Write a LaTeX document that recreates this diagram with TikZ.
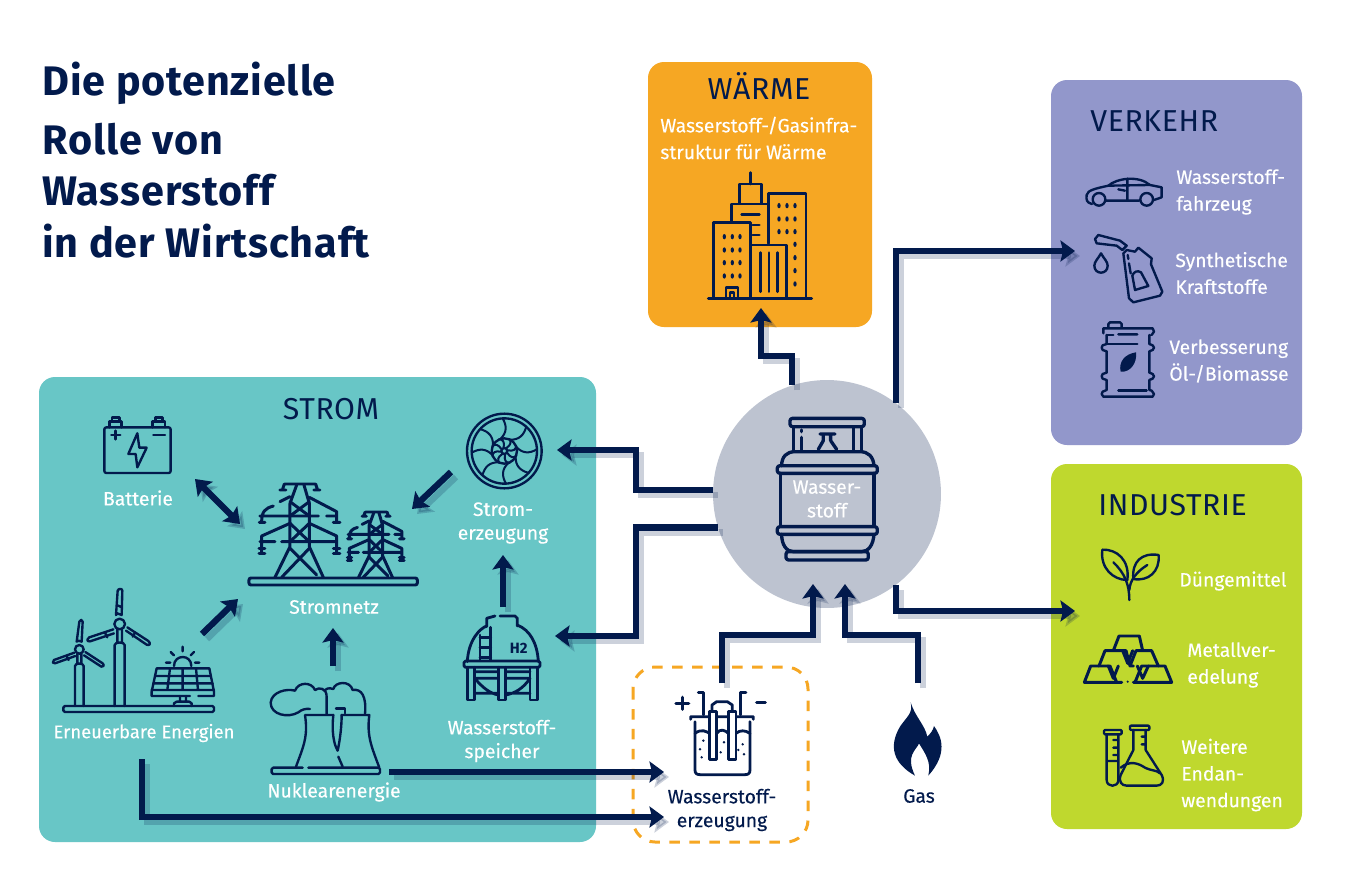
\documentclass[tikz,border=0pt]{standalone}
\usepackage{fontspec}
\setmainfont{Fira Sans}
\newfontfamily\titlefont[LetterSpace=2.1]{Fira Sans}
\newfontfamily\headfont[LetterSpace=2]{Fira Sans}
\newfontfamily\labelfont[FakeBold=0.25]{Fira Sans}
\usetikzlibrary{arrows.meta,positioning}
\definecolor{H2Navy}{HTML}{021A4C}
\definecolor{H2Teal}{HTML}{68C6C6}
\definecolor{H2Orange}{HTML}{F6A723}
\definecolor{H2Violet}{HTML}{9297CB}
\definecolor{H2Lime}{HTML}{BFD82E}
\definecolor{H2Hub}{HTML}{BDC3D0}
\tikzset{
  h2tip/.tip={Stealth[length=.29cm,width=.42cm,inset=.05cm]},
  figlabel/.style={font=\labelfont\fontsize{11}{13.5}\selectfont, text=white, align=center, inner sep=0pt},
  figleft/.style={figlabel, font=\labelfont\fontsize{11}{15.2}\selectfont, align=left, anchor=west},
  figdark/.style={figlabel, text=H2Navy},
  fighead/.style={font=\headfont\fontsize{17.2}{18}\selectfont, text=H2Navy, inner sep=0pt},
  figtitle/.style={font=\titlefont\fontsize{23.5}{26}\selectfont\bfseries, text=H2Navy, anchor=base west, inner sep=0pt},
  figpanel/.style={rounded corners=.32cm},
  figflow/.style={line width=3.6pt, draw=H2Navy, -h2tip,
    preaction={draw=H2Navy, line width=3.6pt, opacity=.2, transform canvas={shift={(.1cm,-.1cm)}}}},
  figboth/.style={figflow, h2tip-h2tip},
  icon/.style={draw=H2Navy, line width=1.35pt, line cap=round, line join=round},
  iconthick/.style={icon, line width=1.9pt},
  zoomed/.style={shift={(#1)}, x=.006667cm, y=-.006667cm}
}
\begin{document}
\begin{tikzpicture}[x=.02cm, y=-.02cm]
\path[fill=white] (0,0) rectangle (1345,879);
\useasboundingbox (0,0) rectangle (1345,879);
% panels
\path[figpanel, fill=H2Teal] (39,377) rectangle (596,842);
\path[figpanel, fill=H2Orange] (648,62) rectangle (872,327);
\path[figpanel, fill=H2Violet] (1051,80) rectangle (1302,445);
\path[figpanel, fill=H2Lime] (1051,464) rectangle (1302,829);
\draw[H2Orange, line width=1.7pt, rounded corners=.44cm, dash pattern=on .21cm off .19cm] (633,667) rectangle (808,842);
\node[circle, fill=H2Hub, minimum size=4.56cm, inner sep=0pt] (hub) at (827,494) {};
% title
\node[figtitle] (title1) at (42,95) {Die potenzielle};
\node[figtitle] (title2) at (42,154) {Rolle von};
\node[figtitle] (title3) at (42,205) {Wasserstoff};
\node[figtitle] (title4) at (42,257) {in der Wirtschaft};
% connector ends
\coordinate (waermeIn) at (761,308);
\coordinate (verkehrIn) at (1075,251);
\coordinate (industrieIn) at (1075,611);
\coordinate (stromerzIn) at (557,450);
\coordinate (speicherIn) at (555,636);
\coordinate (hubInA) at (813,584);
\coordinate (hubInB) at (845,584);
\coordinate (elektroOut) at (722,683);
\coordinate (gasOut) at (918,683);
\coordinate (nuklearOut) at (389,772);
\coordinate (erneuerbarOut) at (142,759);
\coordinate (elektroInA) at (664,772);
\coordinate (elektroInB) at (664,817);
\coordinate (batterieEnd) at (195,479);
\coordinate (netzEndA) at (240,524);
\coordinate (netzEndB) at (412,509);
\coordinate (stromerzOut) at (451,472);
\coordinate (netzEndC) at (238,599);
\coordinate (erneuerbarNetz) at (202,634);
\coordinate (netzEndD) at (333,628);
\coordinate (nuklearNetz) at (333,666);
\coordinate (speicherOut) at (503,607);
\coordinate (stromerzEnd) at (503,555);
% connectors
\draw[figflow] (hub.108) -- ++(0,-29) -| (waermeIn);
\draw[figflow] (hub.53.4) |- (verkehrIn);
\draw[figflow] (hub.-53.4) |- (industrieIn);
\draw[figflow] (hub.178.8) -- ++(-77,0) |- (stromerzIn);
\draw[figflow] (hub.197.4) -- ++(-82,0) |- (speicherIn);
\draw[figflow] (elektroOut) -- ++(0,-48) -| (hubInA);
\draw[figflow] (gasOut) -- ++(0,-48) -| (hubInB);
\draw[figflow] (nuklearOut) -- (elektroInA);
\draw[figflow] (erneuerbarOut) |- (elektroInB);
\draw[figboth] (batterieEnd) -- (netzEndA);
\draw[figflow] (stromerzOut) -- (netzEndB);
\draw[figflow] (erneuerbarNetz) -- (netzEndC);
\draw[figflow] (nuklearNetz) -- (netzEndD);
\draw[figflow] (speicherOut) -- (stromerzEnd);
% strom icons, upper part
\begin{scope}[zoomed={40,380}]
\draw[icon, rounded corners=.04cm] (193,142) rectangle (392,279);
\draw[icon] (208,142) -- (208,125) -- (245,125) -- (245,142) (216,125) -- (216,113) -- (238,113) -- (238,125);
\draw[icon] (338,142) -- (338,125) -- (375,125) -- (375,142) (346,125) -- (346,113) -- (368,113) -- (368,125);
\draw[icon] (214,165) -- (241,165) (227,152) -- (227,178) (340,165) -- (375,165);
\draw[icon] (292,160) -- (265,222) -- (287,222) -- (292,262) -- (320,203) -- (298,203) -- cycle;
\foreach \px/\ps in {778/1,1007/.7}{
\begin{scope}[shift={(\px,592)}, scale=\ps]
\begin{scope}[shift={(-778,-592)}]
\draw[icon, line width=1.7pt] (735,312) -- (825,312) (720,330) -- (738,330) (822,330) -- (840,330) (733,312) -- (727,330) (827,312) -- (833,330);
\draw[icon, line width=1.7pt] (770,315) -- (750,370) -- (750,500) -- (705,592) (792,315) -- (808,370) -- (808,500) -- (850,592);
\draw[icon, line width=1.7pt] (750,365) -- (808,408) (808,365) -- (750,408) (750,430) -- (808,485) (808,430) -- (750,485);
\draw[icon, line width=1.7pt] (750,505) -- (830,585) (808,505) -- (725,592) (720,365) -- (750,350) (808,352) -- (890,395) -- (890,425);
\draw[icon, line width=1.7pt] (700,378) .. controls (675,385) and (665,395) .. (665,425) (660,408) -- (835,408) (860,408) -- (885,408) (658,427) -- (675,427) (880,427) -- (900,427);
\draw[icon, line width=1.7pt] (750,430) -- (665,468) -- (665,520) (808,430) -- (890,468) -- (890,520) (660,485) -- (705,485) (725,485) -- (885,485);
\draw[icon, line width=1.7pt] (657,505) -- (675,505) (657,521) -- (675,521) (880,505) -- (900,505) (880,521) -- (900,521);
\end{scope}
\end{scope}
}
\draw[icon, line width=1.7pt, rounded corners=.04cm] (627,594) rectangle (1132,615);
\end{scope}
% strom icons, lower part
\begin{scope}[zoomed={40,580}]
\draw[icon] (224,378) -- (224,195) .. controls (224,185) and (254,185) .. (254,195) -- (254,378) (232,148) -- (232,186) (246,148) -- (246,186);
\draw[icon] (239,132) circle [radius=16];
\draw[icon] (228,105) -- (233,32) .. controls (235,25) and (247,25) .. (247,32) -- (245,105) -- (232,100) -- cycle (230,75) -- (246,82);
\draw[icon] (220,148) -- (148,172) .. controls (140,178) and (140,185) .. (150,184) -- (222,160) (195,158) -- (202,172);
\draw[icon] (262,142) -- (325,183) .. controls (333,190) and (330,198) .. (320,194) -- (258,152) (285,158) -- (278,170);
\draw[icon] (105,378) -- (105,258) .. controls (105,248) and (131,248) .. (131,258) -- (131,378) (112,222) -- (112,250) (124,222) -- (124,250);
\draw[icon] (118,208) circle [radius=13];
\draw[icon] (110,185) -- (118,125) .. controls (120,118) and (128,118) .. (128,125) -- (125,185) -- (116,182) -- cycle;
\draw[icon] (103,218) -- (42,240) .. controls (36,245) and (38,252) .. (45,250) -- (106,228) (80,228) -- (86,240);
\draw[icon] (136,216) -- (188,250) .. controls (194,256) and (190,262) .. (184,260) -- (132,226);
\draw[icon, rounded corners=.03cm] (70,378) rectangle (522,396);
% solar panel
\draw[icon] (402,258) .. controls (402,222) and (454,222) .. (454,258) (378,248) -- (391,248) (465,248) -- (478,248) (392,216) -- (402,226) (462,216) -- (452,226) (428,200) -- (428,214);
\draw[icon] (375,265) -- (508,265) -- (522,335) -- (522,348) -- (475,348) (450,348) -- (335,348) -- (335,335) -- (350,265) -- (375,265);
\draw[icon] (335,330) -- (522,330) (345,288) -- (512,288) (340,310) -- (518,310) (390,265) -- (382,330) (428,265) -- (428,330) (468,265) -- (474,330);
\draw[icon] (420,348) -- (420,365) (438,348) -- (438,365) (402,378) -- (402,370) -- (410,365) -- (448,365) -- (455,370) -- (455,378);
% cooling towers
\draw[icon, rounded corners=.03cm] (788,563) -- (695,563) -- (695,582) -- (1020,582) -- (1020,563) -- (805,563);
\draw[icon] (795,405) -- (880,405) (795,405) .. controls (805,470) and (790,500) .. (768,560) (905,405) -- (988,405) .. controls (980,470) and (995,500) .. (1018,563);
\draw[icon] (880,405) .. controls (875,450) and (880,490) .. (893,512) .. controls (900,480) and (905,440) .. (905,405) (895,530) -- (908,560);
\draw[icon] (860,402) -- (860,350) .. controls (860,325) and (838,320) .. (825,330) .. controls (815,305) and (775,305) .. (765,332) .. controls (740,325) and (695,335) .. (692,368) .. controls (692,405) and (745,415) .. (775,397) .. controls (785,388) and (800,385) .. (810,387);
\draw[icon] (855,330) .. controls (865,322) and (875,325) .. (880,327) .. controls (885,305) and (930,300) .. (938,330) .. controls (965,325) and (980,350) .. (975,402);
\draw[icon] (888,385) -- (915,385) -- (915,400);
\end{scope}
% stromerzeugung, speicher, hub and electrolyser icons
\begin{scope}[zoomed={440,400}]
\begin{scope}[shift={(193,153)}]
\draw[icon] (0,0) circle [radius=112] (0,0) circle [radius=98] (0,0) circle [radius=38] (0,0) circle [radius=9];
\foreach \a in {0,45,...,315}{
\draw[icon, line width=1.15pt, rotate=\a] (-12,-36) .. controls (8,-55) and (8,-75) .. (-5,-98) (6,-9) .. controls (20,-18) and (22,-28) .. (14,-36);
}
\end{scope}
% tank
\draw[icon, line width=1.6pt] (82,785) .. controls (85,720) and (120,685) .. (140,678) (232,675) .. controls (270,690) and (292,730) .. (295,785);
\draw[icon, line width=1.6pt] (140,680) -- (140,655) -- (165,648) (180,648) -- (225,648) -- (232,655) -- (232,678);
\draw[icon, line width=1.6pt] (120,705) -- (120,780) (152,682) -- (152,780) (120,712) -- (152,712) (120,742) -- (152,742) (120,772) -- (152,772);
\draw[icon, line width=1.6pt, rounded corners=.03cm] (72,783) rectangle (300,802);
\node[font=\fontsize{8.5}{9}\selectfont\bfseries, text=H2Navy, inner sep=0pt] (htwo) at (236,746) {H2};
\foreach \px in {82,175,270}{
\draw[icon, line width=1.6pt] (\px,802) -- (\px,900) -- ({\px+22},900) -- ({\px+22},802);
}
\draw[icon, line width=1.6pt] (104,835) .. controls (130,865) and (150,880) .. (175,885) (197,885) .. controls (225,880) and (250,865) .. (270,835) (104,815) -- (175,815) (197,815) -- (270,815) (104,835) -- (175,835) (197,835) -- (270,835) (104,880) -- (175,880) (197,880) -- (270,880);
% cylinder
\draw[iconthick, rounded corners=.05cm] (1050,55) rectangle (1273,80);
\draw[iconthick] (1060,80) -- (1060,150) (1085,112) -- (1085,150) (1085,90) -- (1085,95) (1240,80) -- (1240,150) (1265,80) -- (1265,150);
\draw[iconthick] (1140,102) -- (1185,102) (1150,104) -- (1150,122) (1172,104) -- (1172,122) (1150,122) -- (1135,148) (1172,122) -- (1190,148);
\draw[iconthick] (1025,197) .. controls (1025,170) and (1040,155) .. (1065,155) -- (1260,155) .. controls (1285,155) and (1300,170) .. (1302,197);
\draw[iconthick, rounded corners=.05cm] (1012,197) rectangle (1312,220);
\draw[icon] (1030,197) -- (1262,197);
\draw[iconthick] (1022,220) -- (1022,378) (1302,220) -- (1302,378);
\draw[iconthick, rounded corners=.05cm] (1012,380) rectangle (1312,403);
\draw[iconthick] (1025,403) .. controls (1025,435) and (1040,455) .. (1060,455) -- (1265,455) .. controls (1285,455) and (1300,435) .. (1302,403);
\draw[iconthick, rounded corners=.05cm] (1038,455) rectangle (1285,480);
% electrolyser
\draw[iconthick] (708,910) -- (746,910) (727,892) -- (727,928) (950,908) -- (976,908);
\draw[icon, line width=1.6pt] (775,878) -- (790,878) -- (790,945) (918,878) -- (902,878) -- (902,945);
\draw[icon, line width=1.6pt] (752,958) -- (752,950) -- (940,950) -- (940,958) (765,965) -- (765,1110) .. controls (765,1120) and (770,1124) .. (780,1124) -- (915,1124) .. controls (925,1124) and (930,1120) .. (930,1110) -- (930,965);
\draw[icon, line width=1.6pt] (765,1000) .. controls (785,985) and (800,995) .. (808,1000) (830,1000) .. controls (840,985) and (855,990) .. (865,1000) (888,1000) .. controls (900,990) and (915,990) .. (930,1000);
\draw[icon, line width=1.6pt, fill=white] (808,935) rectangle (830,1078) (865,935) rectangle (888,1078);
\draw[icon, line width=1.6pt] (816,935) -- (816,915) -- (830,905) -- (862,905) -- (877,915) -- (877,935);
\foreach \dx/\dy in {790/1022,780/1048,852/1027,842/1057,785/1072,908/1033,895/1050,912/1063}{
\fill[H2Navy] (\dx,\dy) circle [radius=4];
}
% flame
\fill[H2Navy] (1412,907) .. controls (1425,950) and (1455,975) .. (1462,1010) .. controls (1472,1000) and (1480,990) .. (1482,978) .. controls (1505,1010) and (1525,1060) .. (1465,1127) .. controls (1475,1085) and (1455,1060) .. (1437,1030) .. controls (1430,1050) and (1395,1065) .. (1425,1127) .. controls (1360,1090) and (1345,1040) .. (1380,980) .. controls (1400,950) and (1420,940) .. (1412,907) -- cycle;
\end{scope}
% buildings
\begin{scope}[zoomed={640,60}]
\draw[icon, line width=1.6pt] (205,715) -- (515,715) (331,338) -- (331,372) (298,430) -- (298,372) -- (365,372) -- (365,430) (275,485) -- (275,432) -- (382,432);
\draw[icon, line width=1.6pt] (305,463) -- (358,463) (338,495) -- (358,495) (338,525) -- (358,525) (385,550) -- (385,400) -- (498,400) -- (498,715);
\draw[icon, line width=1.6pt] (220,715) -- (220,487) -- (332,487) -- (332,715) (335,555) -- (440,555) -- (440,715) (258,715) -- (258,682) -- (294,682) -- (294,715) (270,715) -- (270,697) -- (282,697) -- (282,715);
\draw[icon, line width=1.6pt] (362,578) -- (362,695) (387,578) -- (387,695) (412,578) -- (412,695);
\foreach \wx in {253,277,300}{
\foreach \wy in {530,570,608,648}{
\fill[H2Navy] (\wx,\wy) ellipse [x radius=5, y radius=8];
}
}
\foreach \wx in {417,441,465}{
\foreach \wy in {437,477,515}{
\fill[H2Navy] (\wx,\wy) ellipse [x radius=5, y radius=8];
}
}
\foreach \wx/\wy in {465/553,465/593,465/632,465/672}{
\fill[H2Navy] (\wx,\wy) ellipse [x radius=5, y radius=8];
}
\end{scope}
% verkehr icons
\begin{scope}[zoomed={1050,80}]
\draw[icon] (126,372) .. controls (110,368) and (108,360) .. (110,345) .. controls (112,330) and (140,325) .. (175,317) .. controls (200,295) and (265,285) .. (300,315) -- (335,322) -- (335,352) -- (312,360) (168,362) -- (268,362);
\draw[icon] (147,358) circle [radius=19] (290,358) circle [radius=19];
\draw[icon] (175,317) -- (298,315) (232,296) -- (232,362) (205,328) -- (225,332);
\draw[icon] (175,742) -- (175,732) -- (180,727) -- (210,727) -- (215,732) -- (215,742);
\draw[icon] (160,760) -- (160,745) -- (308,745) -- (312,755) -- (305,765) (205,763) -- (262,763) (170,765) -- (170,792) (298,765) -- (298,792);
\draw[icon] (170,792) -- (158,796) -- (155,803) -- (158,810) -- (170,814) -- (170,878) -- (158,882) -- (155,889) -- (158,896) -- (170,900) -- (170,930) -- (158,935) -- (155,942) -- (160,950) -- (308,950) -- (312,942) -- (305,932) -- (298,930) -- (298,900) -- (308,896) -- (312,889) -- (308,882) -- (298,878) -- (298,814) -- (308,810) -- (312,803) -- (308,796) -- (298,792);
\draw[icon] (170,792) -- (262,792) (205,932) -- (290,932) (170,765) -- (190,765);
\fill[H2Navy] (258,817) .. controls (225,822) and (205,845) .. (212,875) .. controls (240,878) and (262,850) .. (258,817) -- cycle;
\end{scope}
\begin{scope}[zoomed={1085,225}]
\draw[icon] (30,42) -- (40,30) -- (105,47) -- (125,62) -- (112,75) -- (95,62) -- (35,55) -- cycle;
\draw[icon] (115,85) -- (125,75) -- (150,80) -- (160,68) -- (200,100) -- (198,118) -- (232,200) -- (225,212) -- (145,232) -- (132,220) -- cycle;
\draw[icon] (150,195) -- (190,183) -- (168,142) .. controls (158,135) and (146,140) .. (142,152) -- cycle (128,90) -- (130,102) (132,115) -- (137,145);
\draw[icon] (48,85) .. controls (40,100) and (28,110) .. (28,122) .. controls (28,150) and (68,150) .. (68,122) .. controls (68,110) and (56,100) .. (48,85) -- cycle;
\end{scope}
% industrie icons
\begin{scope}[zoomed={1050,465}]
\draw[icon] (157,254) .. controls (200,252) and (240,285) .. (232,345) .. controls (190,345) and (150,310) .. (157,254) -- cycle;
\draw[icon] (326,270) .. controls (275,262) and (245,290) .. (250,342) .. controls (295,350) and (330,320) .. (326,270) -- cycle;
\draw[icon] (238,405) .. controls (238,360) and (225,325) .. (190,292) (238,375) .. controls (240,345) and (260,320) .. (292,300);
\draw[icon, line width=1.7pt] (103,652) -- (122,603) -- (180,603) -- (200,652) -- cycle (255,652) -- (275,603) -- (345,603) -- (365,652) -- cycle;
\draw[icon, line width=1.7pt] (147,603) -- (165,557) -- (228,557) -- (240,603) -- (250,603) (240,603) -- (258,557) -- (305,557) -- (325,603) (190,557) -- (207,513) -- (268,513) -- (278,557);
\draw[icon, line width=1.7pt] (218,557) -- (233,595) -- (248,557) (175,603) -- (190,640) -- (205,603) (262,603) -- (278,640) -- (295,603) (200,652) -- (215,652) (250,652) -- (255,652);
\fill[H2Navy] (233,650) circle [radius=3.5];
\draw[icon, rounded corners=.02cm] (162,795) rectangle (215,808) (240,782) rectangle (298,795);
\draw[icon] (170,808) -- (170,945) .. controls (170,968) and (205,968) .. (205,945) -- (205,808) (190,825) -- (205,825) (190,848) -- (205,848) (190,870) -- (205,870) (170,888) -- (205,888);
\draw[icon] (250,795) -- (250,855) -- (212,930) .. controls (205,950) and (215,962) .. (230,962) -- (320,962) .. controls (335,962) and (345,950) .. (335,930) -- (287,855) -- (287,795) (275,815) -- (287,815) (275,838) -- (287,838);
\draw[icon] (212,908) .. controls (240,885) and (265,895) .. (285,908) .. controls (305,918) and (320,915) .. (330,925);
\end{scope}
% labels
\node[figlabel] (batterie) at (138,498) {Batterie};
\node[figlabel] (stromnetz) at (334,607) {Stromnetz};
\node[figlabel, font=\labelfont\fontsize{10.5}{13.5}\selectfont] (erneuerbar) at (144,733) {Erneuerbare Energien};
\node[figlabel] (nuklear) at (334,792) {Nuklearenergie};
\node[figlabel] (stromerz) at (503,523) {Strom-\\erzeugung};
\node[figlabel] (speicher) at (502,741) {Wasserstoff-\\speicher};
\node[figlabel] (wasserstoff) at (827,499) {Wasser-\\stoff};
\node[figdark] (elektro) at (722,810) {Wasserstoff-\\erzeugung};
\node[figdark] (gas) at (919,796) {Gas};
\node[fighead] (strom) at (331,409) {STROM};
\node[fighead] (waerme) at (759,86) {WÄRME};
\node[fighead, anchor=west] (verkehr) at (1090,121) {VERKEHR};
\node[fighead, anchor=west] (industrie) at (1098,505) {INDUSTRIE};
\node[figleft] (infra) at (660,138) {Wasserstoff-/Gasinfra-\\struktur für Wärme};
\node[figleft] (fahrzeug) at (1176,192) {Wasserstoff-\\fahrzeug};
\node[figleft] (kraftstoff) at (1175,273) {Synthetische\\Kraftstoffe};
\node[figleft] (biomasse) at (1169,361) {Verbesserung\\Öl-/Biomasse};
\node[figleft] (duenger) at (1179,581) {Düngemittel};
\node[figleft] (metall) at (1187,665) {Metallver-\\edelung};
\node[figleft] (endan) at (1181,775) {Weitere\\Endan-\\wendungen};
\end{tikzpicture}
\end{document}
